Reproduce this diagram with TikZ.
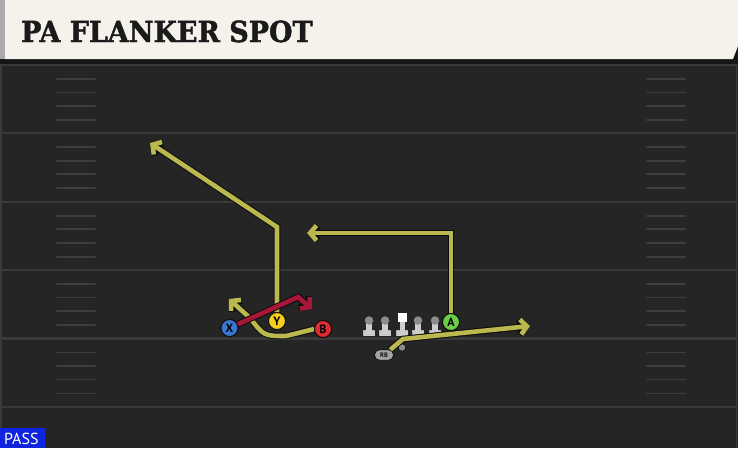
\documentclass[tikz,border=0pt]{standalone}
\usepackage{fontspec}
\setmainfont{DejaVu Serif}
\newfontfamily\titlefont[FakeBold=1.6]{DejaVu Serif Bold}
\newfontfamily\ptsans{PT Sans}
\usetikzlibrary{arrows.meta,shapes.misc}
\definecolor{fieldbg}{RGB}{37,37,37}
\definecolor{yardcol}{RGB}{58,58,58}
\definecolor{hashcol}{RGB}{62,62,62}
\definecolor{headercol}{RGB}{245,242,235}
\definecolor{stripcol}{RGB}{170,170,170}
\definecolor{bandcol}{RGB}{22,22,22}
\definecolor{titlecol}{RGB}{26,26,26}
\definecolor{routeyel}{RGB}{186,184,78}
\definecolor{routered}{RGB}{168,22,56}
\definecolor{outlinecol}{RGB}{12,12,12}
\definecolor{xblue}{RGB}{58,118,210}
\definecolor{yyellow}{RGB}{244,206,30}
\definecolor{bred}{RGB}{222,44,50}
\definecolor{agreen}{RGB}{108,206,72}
\definecolor{passblue}{RGB}{14,36,222}
\definecolor{headgray}{RGB}{140,140,140}
\definecolor{bodygray}{RGB}{205,205,205}
\tikzset{
  player/.style={circle, draw=outlinecol, line width=0.9pt, minimum size=17pt, inner sep=0pt,
    font=\ptsans\bfseries\fontsize{12}{12}\selectfont, text=black},
  rbstyle/.style={rounded rectangle, fill=headgray!80!white, draw=outlinecol, line width=0.6pt, minimum width=19pt, minimum height=10.5pt,
    inner sep=0pt, font=\ptsans\bfseries\fontsize{6.5}{6.5}\selectfont, text=outlinecol},
  routeout/.style={draw=outlinecol, line width=6.6pt, line join=miter, -{Straight Barb[length=6.5pt,width=15pt]}},
  routein/.style={draw=routeyel, line width=4.6pt, line join=miter, -{Straight Barb[length=6.5pt,width=15pt]}},
  redin/.style={draw=routered, line width=4.6pt, line join=miter, -{Straight Barb[length=6.5pt,width=15pt]}},
  yardline/.style={draw=yardcol, line width=2.2pt},
  hashmark/.style={draw=hashcol, line width=1.8pt, line cap=round},
}
\begin{document}
\begin{tikzpicture}[x=1pt,y=-1pt]
\useasboundingbox (0,0) rectangle (738,448);
\fill[fieldbg] (0,0) rectangle (738,448);
% side edges
\draw[yardcol, line width=1.5pt] (1,60) -- (1,448);
\draw[yardcol, line width=1.5pt] (736.5,60) -- (736.5,448);
% yard lines and hash marks
\foreach \k in {0,...,5} {
  \pgfmathsetmacro{\yy}{65+68.35*\k}
  \draw[yardline] (2,\yy) -- (736,\yy);
}
\foreach \k in {0,...,4} {
  \foreach \d in {14,27.5,41,55} {
    \pgfmathsetmacro{\yy}{65+68.35*\k+\d}
    \draw[hashmark] (57,\yy) -- (95,\yy);
    \draw[hashmark] (647,\yy) -- (685,\yy);
  }
}
% header
\fill[bandcol] (0,58) rectangle (738,63.5);
\fill[bandcol] (730,40) rectangle (738,60);
\fill[stripcol] (0,0) rectangle (5,59);
\fill[headercol] (5,0) -- (738,0) -- (738,46) -- (733,59) -- (5,59) -- cycle;
\node[anchor=base west, inner sep=0pt, text=titlecol, xscale=0.93,
  font=\titlefont\fontsize{29}{30}\selectfont] (title) at (21,42) {PA FLANKER SPOT};
% offensive line
\foreach \cx/\nm in {369/lt,385/lg,418/rg,435/rt} {
  \fill[bodygray!85!black] (\cx-6,330) rectangle (\cx+6,336);
  \fill[bodygray] (\cx-5.5,330.5) rectangle (\cx+5.5,335.5);
  \fill[bodygray] (\cx-3,321) rectangle (\cx+3,331);
  \node[circle, fill=headgray, minimum size=8.5pt, inner sep=0pt] (\nm) at (\cx,320.5) {};
}
\fill[bodygray!85!black] (396,330) rectangle (408,336);
\fill[bodygray] (396.5,330.5) rectangle (407.5,335.5);
\fill[bodygray] (399.5,321) rectangle (404.5,331);
\node[rectangle, fill=white, minimum size=9pt, inner sep=0pt] (C) at (402,317.5) {};
% small grey marker
\node[circle, fill=headgray, draw=outlinecol, line width=0.6pt, minimum size=7.5pt, inner sep=0pt] (QB) at (402,347.5) {};
% players
\node[player, fill=xblue]   (X) at (229.5,328) {X};
\node[player, fill=yyellow] (Y) at (277,321) {Y};
\node[player, fill=bred]    (B) at (323,329) {B};
\node[player, fill=agreen]  (A) at (451,322) {A};
\node[rbstyle] (RB) at (384,355) {RB};
% route coordinates
\coordinate (yc) at (277,227);
\coordinate (ye) at (150,143);
\coordinate (ac) at (451,233);
\coordinate (ae) at (307,233);
\coordinate (bm1) at (286,336);
\coordinate (bm2) at (250,318);
\coordinate (be) at (229,299);
\coordinate (xc) at (298,297);
\coordinate (xe) at (312,309);
\coordinate (rc) at (403,339);
\coordinate (re) at (530,326);
% routes
\foreach \s in {routeout,routein} {
  \draw[\s] (Y) -- (yc) -- (ye);
  \draw[\s] (A) -- (ac) -- (ae);
  \draw[\s] (B.west) -- (bm1) .. controls (264,336) .. (bm2) -- (be);
  \draw[\s] (RB) -- (rc) -- (re);
}
\foreach \s in {routeout,redin} {
  \draw[\s] (X) -- (xc) -- (xe);
}
% players drawn again above the routes
\node[player, fill=xblue]   at (X) {X};
\node[player, fill=yyellow] at (Y) {Y};
\node[player, fill=bred]    at (B) {B};
\node[player, fill=agreen]  at (A) {A};
\node[rbstyle] at (RB) {RB};
% pass tag
\fill[passblue] (0,428) rectangle (45,448);
\node[anchor=base west, inner sep=0pt, text=white, font=\ptsans\fontsize{16}{16}\selectfont] (pass) at (4,444.5) {PASS};
\end{tikzpicture}
\end{document}
